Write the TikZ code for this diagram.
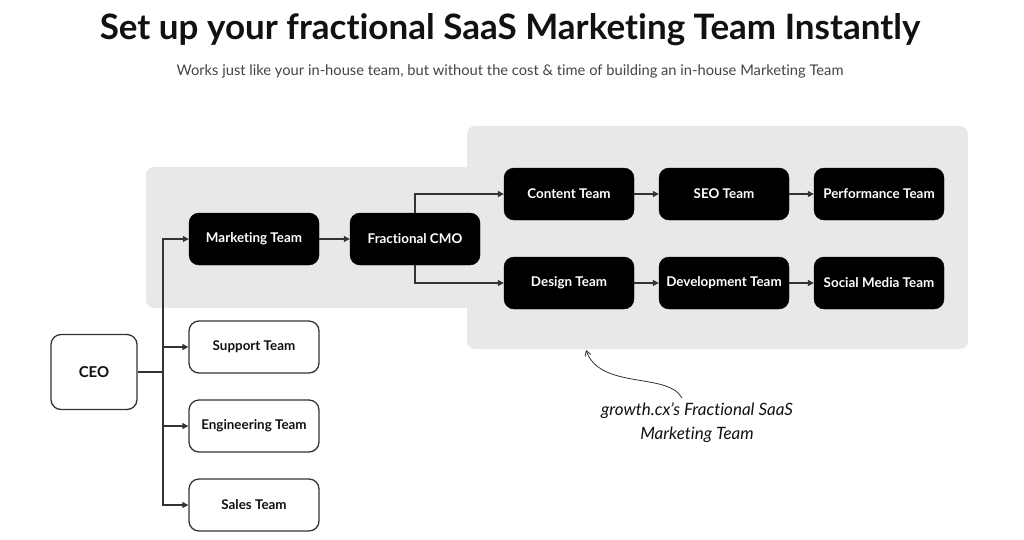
\documentclass[tikz,border=0pt]{standalone}
\usepackage{fontspec}
\setmainfont{Lato}[Ligatures={NoCommon}]
\usetikzlibrary{arrows.meta}
\definecolor{panel}{HTML}{E8E8E8}
\definecolor{ink}{HTML}{111111}
\definecolor{wire}{HTML}{333333}
\definecolor{subgray}{HTML}{444444}
\tikzset{
  darkbox/.style={rectangle, rounded corners=10pt, fill=black, draw=black, minimum width=130pt, minimum height=52pt, text=white, font=\fontsize{13.4}{15}\selectfont\bfseries, inner sep=0pt},
  lightbox/.style={rectangle, rounded corners=10pt, fill=white, draw=wire, line width=1.3pt, minimum width=130pt, minimum height=52pt, text=ink, font=\fontsize{13.4}{15}\selectfont\bfseries, inner sep=0pt},
  conn/.style={draw=wire, line width=1.2pt, -{Triangle[length=6pt,width=6pt]}},
  wireline/.style={draw=wire, line width=1.2pt},
}
\begin{document}
\begin{tikzpicture}[x=1pt,y=-1pt]
\useasboundingbox (0,0) rectangle (1024,539);
% panels
\fill[panel, rounded corners=8pt] (146,167) rectangle (472,308);
\fill[panel, rounded corners=8pt] (467,126) rectangle (968,349);
% titles
\node[text=ink, font=\fontsize{35}{40}\selectfont\bfseries] (title) at (510,30) {Set up your fractional SaaS Marketing Team Instantly};
\node[text=subgray, font=\fontsize{14.7}{17}\selectfont] (subtitle) at (510,71) {Works just like your in-house team, but without the cost \& time of building an in-house Marketing Team};
% nodes
\node[darkbox] (mkt) at (254,239) {Marketing Team};
\node[darkbox] (cmo) at (415,239) {Fractional CMO};
\node[darkbox] (content) at (569,194) {Content Team};
\node[darkbox] (seo) at (724,194) {SEO Team};
\node[darkbox] (perf) at (879,194) {Performance Team};
\node[darkbox] (design) at (569,283) {Design Team};
\node[darkbox] (dev) at (724,283) {Development Team};
\node[darkbox] (social) at (879,283) {Social Media Team};
\node[lightbox, minimum width=86pt, minimum height=75pt, font=\fontsize{15}{17}\selectfont\bfseries] (ceo) at (94,372) {CEO};
\node[lightbox] (support) at (254,347) {Support Team};
\node[lightbox] (eng) at (254,426) {Engineering Team};
\node[lightbox] (sales) at (254,505) {Sales Team};
% connectors
\coordinate (trunk) at (163,372);
\draw[wireline] (ceo.east) -- (trunk);
\draw[wireline] (163,239) -- (163,505);
\draw[conn] (trunk) |- (mkt.west);
\draw[conn] (trunk) |- (support.west);
\draw[conn] (trunk) |- (eng.west);
\draw[conn] (trunk) |- (sales.west);
\draw[conn] (mkt) -- (cmo);
\draw[conn] (cmo.north) |- (content.west);
\draw[conn] (cmo.south) |- (design.west);
\draw[conn] (content) -- (seo);
\draw[conn] (seo) -- (perf);
\draw[conn] (design) -- (dev);
\draw[conn] (dev) -- (social);
% annotation
\node[text=ink, font=\fontsize{17}{24}\selectfont\itshape, align=center] (note) at (697,423) {growth.cx's Fractional SaaS\\Marketing Team};
\coordinate (tip) at (586,350);
\draw[draw=wire, line width=0.8pt, -{Straight Barb[length=5pt,width=6pt]}] (682,398) .. controls (668,372) and (600,390) .. (tip);
\end{tikzpicture}
\end{document}
